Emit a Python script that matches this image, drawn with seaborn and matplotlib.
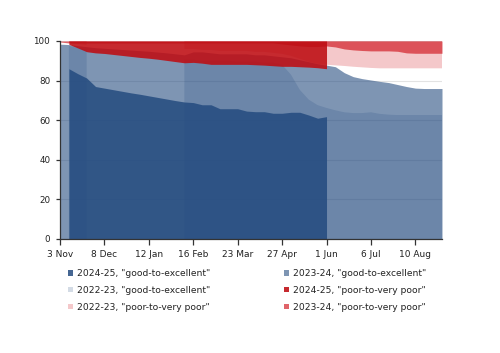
import numpy as np
import pandas as pd
import matplotlib
matplotlib.use("Agg")
import matplotlib.pyplot as plt
import seaborn as sns

nan = np.nan
dates = pd.date_range("2024-11-03", periods=44, freq="7D")

g2425 = [nan, 86, 83.5, 81.3, 77, 76.2, 75.4, 74.6, 73.8, 73.1, 72.3, 71.5, 70.7, 69.9,
         69.2, 68.9, 67.8, 67.8, 65.8, 65.8, 65.8, 64.6, 64.3, 64.3, 63.5, 63.5, 64, 64,
         62.6, 61, 61.8] + [nan] * 13
g2324 = [98.4, 98.2, 97.6, 97.1, 96.6, 96.3, 96, 95.7, 95.4, 95.1, 94.8, 94.4, 94, 93.5,
         93, 94.5, 94.5, 94, 93.5, 93.5, 93.5, 93.5, 93, 93, 92.5, 92, 91.5, 90.5, 89.5,
         88.5, 87.8, 87, 84, 82, 81, 80.3, 79.6, 79, 78, 77, 76.2, 76, 76, 76]
g2223 = [nan, 97.5, 96.5, 95.5] + [nan] * 10 + [
         90.5, 90.5, 90, 90, 90, 90, 89.5, 89.5, 89.5, 89, 89, 88, 83, 75.3, 70.4, 67.6,
         66.2, 65, 64, 63.6, 63.6, 64, 63.2, 62.8, 62.6, 62.6, 62.6, 62.6, 62.6, 62.6]
p2425 = [nan, 1.7, 3.5, 5.4, 6, 6.3, 6.8, 7.3, 7.8, 8.3, 8.7, 9.2, 9.8, 10.4, 11, 10.8,
         11.2, 11.8, 11.8, 11.8, 11.8, 11.8, 12, 12.2, 12.5, 12.8, 12.8, 13, 13.2, 13.5,
         14] + [nan] * 13
p2324 = [0.5] + [1.0] * 24 + [1.5, 2, 2.5, 2.8, 2.8, 2.5, 3, 4, 4.5, 4.8, 5, 5, 5, 5.2,
         6, 6.2, 6.2, 6.2, 6.2]
p2223 = [nan, 1, 1.5, 2] + [nan] * 10 + [
         4, 4, 4.5, 4.5, 5, 5, 5, 5, 5.5, 5.5, 6, 6.5, 7.5, 9, 10.5, 11.5, 12, 12.3, 12.6,
         13, 13.3, 13.6, 13.8, 13.8, 13.8, 13.8, 13.8, 13.8, 13.8, 13.8]

tick_dates = ["2024-11-03", "2024-12-08", "2025-01-12", "2025-02-16", "2025-03-23",
              "2025-04-27", "2025-06-01", "2025-07-06", "2025-08-10"]
tick_labels = ["3 Nov", "8 Dec", "12 Jan", "16 Feb", "23 Mar", "27 Apr", "1 Jun",
               "6 Jul", "10 Aug"]
y_ticks = [0, 20, 40, 60, 80, 100]

labels = {
    "g2425": '2024-25, "good-to-excellent"',
    "g2324": '2023-24, "good-to-excellent"',
    "g2223": '2022-23, "good-to-excellent"',
    "p2425": '2024-25, "poor-to-very poor"',
    "p2223": '2022-23, "poor-to-very poor"',
    "p2324": '2023-24, "poor-to-very poor"',
}

df = pd.DataFrame({"date": dates, "g2425": g2425, "g2324": g2324, "g2223": g2223,
                   "p2425": p2425, "p2324": p2324, "p2223": p2223})

sns.set_theme(style="white")
plt.rcParams["font.family"] = ["DejaVu Sans"]

fig = plt.figure(figsize=(5.0, 3.53), dpi=100)
ax = fig.add_axes([60 / 500, 1 - 239 / 353, (442 - 60) / 500, (239 - 41) / 353])

blue = "#244b7f"
red_light = "#d21e26"
red_dark = "#be0c12"

ax.set_axisbelow(True)
ax.yaxis.grid(True, color="#e3e3e3", linewidth=0.8, zorder=0)
ax.xaxis.grid(False)

h = {}
h["g2223"] = ax.fill_between(df["date"], 0, df["g2223"], color=blue, alpha=0.2, lw=0,
                             label=labels["g2223"], zorder=1)
h["g2324"] = ax.fill_between(df["date"], 0, df["g2324"], color=blue, alpha=0.59, lw=0,
                             label=labels["g2324"], zorder=2)
h["g2425"] = ax.fill_between(df["date"], 0, df["g2425"], color=blue, alpha=0.85, lw=0,
                             label=labels["g2425"], zorder=3)
h["p2223"] = ax.fill_between(df["date"], 100 - df["p2223"], 100, color=red_light,
                             alpha=0.244, lw=0, label=labels["p2223"], zorder=4)
h["p2324"] = ax.fill_between(df["date"], 100 - df["p2324"], 100, color=red_light,
                             alpha=0.69, lw=0, label=labels["p2324"], zorder=5)
h["p2425"] = ax.fill_between(df["date"], 100 - df["p2425"], 100, color=red_dark,
                             alpha=0.88, lw=0, label=labels["p2425"], zorder=6)

ax.set_xlim(pd.Timestamp("2024-11-03"), pd.Timestamp("2025-08-31"))
ax.set_ylim(0, 100)
ax.set_xticks(pd.to_datetime(tick_dates))
ax.set_xticklabels(tick_labels)
ax.set_yticks(y_ticks)
ax.set_yticklabels([str(v) for v in y_ticks])
ax.tick_params(axis="x", length=4, width=0.9, color="#333333", labelsize=6.5,
               labelcolor="#222222", pad=4, bottom=True)
ax.tick_params(axis="y", length=3, width=0.9, color="#333333", labelsize=6.3,
               labelcolor="#222222", pad=4, left=True)
sns.despine(ax=ax, top=True, right=True)
for s in ["left", "bottom"]:
    ax.spines[s].set_color("#333333")
    ax.spines[s].set_linewidth(0.9)
    ax.spines[s].set_zorder(10)
ax.set_xlabel("")
ax.set_ylabel("")

common = dict(frameon=False, fontsize=6.6, handlelength=0.55, handleheight=0.55,
              handletextpad=0.4, labelspacing=0.85, borderpad=0, borderaxespad=0,
              loc="upper left", labelcolor="#222222")
order1 = ["g2425", "g2223", "p2223"]
order2 = ["g2324", "p2425", "p2324"]
fig.legend([h[k] for k in order1], [labels[k] for k in order1],
           bbox_to_anchor=(68 / 500, 1 - 269 / 353), **common)
fig.legend([h[k] for k in order2], [labels[k] for k in order2],
           bbox_to_anchor=(284 / 500, 1 - 269 / 353), **common)

fig.savefig("out.png", dpi=100, facecolor="white")
